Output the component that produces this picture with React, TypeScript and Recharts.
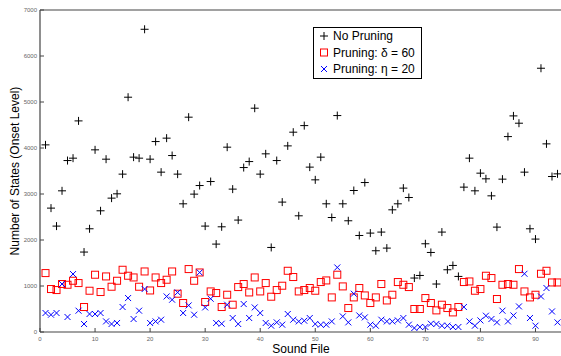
import { ScatterChart, Scatter, XAxis, YAxis, Legend } from 'recharts';

// sound file numbers (x categories)
const fileIds = Array.from({ length: 94 }, (_, i) => i + 1);

const noPruning = [
  4068, 2693, 2302, 3069, 3727, 3779, 4589, 1738, 2244, 3960,
  2635, 3757, 2910, 3004, 3432, 5104, 3801, 3779, 6581, 3757,
  4140, 3475, 4214, 3836, 3432, 2787, 4670, 2997, 3184, 2302,
  3271, 1911, 2287, 4018, 3106, 2433, 3575, 3705, 4865, 3432,
  3873, 1838, 3727, 2824, 4046, 4344, 2526, 4487, 3584, 3308,
  3801, 2787, 2489, 4705, 2787, 2418, 3076, 2098, 3249, 2150,
  1766, 2172, 1824, 2656, 2787, 3128, 2924, 1173, 1229, 1918,
  1729, 1043, 2172, 1353, 1447, 1208, 3149, 3779, 3069, 3453,
  3330, 2960, 2280, 3323, 4248, 4698, 4539, 3475, 2244, 2020,
  5734, 4090, 3380, 3438,
];

const pruningDelta = [
  1281, 934, 912, 1043, 1027, 1114, 1064, 543, 897, 1245,
  869, 1208, 984, 1114, 1353, 1223, 1186, 984, 1316, 903,
  1186, 1064, 1136, 1316, 832, 630, 1368, 1114, 1294, 652,
  882, 847, 543, 810, 593, 977, 1043, 860, 1186, 882,
  1064, 767, 912, 1006, 1331, 1195, 882, 912, 956, 897,
  1086, 1121, 752, 1245, 991, 521, 752, 956, 795, 630,
  752, 1043, 686, 810, 1086, 1027, 977, 500, 500, 738,
  630, 470, 593, 521, 426, 543, 1086, 1099, 897, 934,
  1223, 1173, 717, 1027, 1043, 1027, 1368, 882, 752, 810,
  1266, 1331, 1077, 1077,
];

const pruningEta = [
  413, 376, 413, 1043, 326, 1260, 463, 174, 391, 391,
  413, 230, 174, 196, 543, 738, 282, 463, 934, 196,
  230, 267, 773, 702, 860, 413, 578, 376, 1294, 534,
  723, 196, 180, 593, 304, 174, 608, 304, 534, 413,
  196, 137, 209, 159, 391, 267, 230, 245, 304, 174,
  159, 159, 230, 1403, 339, 209, 832, 360, 317, 159,
  137, 267, 230, 230, 252, 304, 159, 87, 109, 109,
  180, 174, 137, 137, 109, 109, 543, 230, 137, 252,
  354, 282, 209, 463, 230, 360, 556, 1266, 304, 137,
  773, 956, 447, 209,
];

const xTicks = [0, 10, 20, 30, 40, 50, 60, 70, 80, 90];
const yTicks = [0, 1000, 2000, 3000, 4000, 5000, 6000, 7000];

const toPoints = (vals: number[]) => fileIds.map((f, i) => ({ file: f, states: vals[i] }));

const FRAME = '#444';
const TICK_TXT = '#666';
const FONT = 'Liberation Sans, Arial, Helvetica, sans-serif';

const PlusMark = (p: any) => (
  <path d={`M${p.cx - 4},${p.cy}h8M${p.cx},${p.cy - 4}v8`} stroke="#000" strokeWidth={1} fill="none" />
);
const SquareMark = (p: any) => (
  <rect x={p.cx - 3.5} y={p.cy - 3.5} width={7} height={7} stroke="#ff0000" strokeWidth={1} fill="none" />
);
const CrossMark = (p: any) => (
  <path d={`M${p.cx - 3},${p.cy - 3}l6,6M${p.cx - 3},${p.cy + 3}l6,-6`} stroke="#0000ff" strokeWidth={1} fill="none" />
);

const BottomTick = (p: any) => (
  <g>
    <line x1={p.x} x2={p.x} y1={p.y} y2={p.y - 4} stroke={FRAME} />
    <text x={p.x} y={p.y + 9} textAnchor="middle" fontSize={6} fill={TICK_TXT} fontFamily={FONT}>
      {p.payload.value}
    </text>
  </g>
);
const TopTick = (p: any) => <line x1={p.x} x2={p.x} y1={p.y} y2={p.y + 4} stroke={FRAME} />;
const LeftTick = (p: any) => (
  <g>
    <line x1={p.x} x2={p.x + 4} y1={p.y} y2={p.y} stroke={FRAME} />
    <text x={p.x - 3} y={p.y + 2} textAnchor="end" fontSize={6} fill={TICK_TXT} fontFamily={FONT}>
      {p.payload.value}
    </text>
  </g>
);
const RightTick = (p: any) => <line x1={p.x} x2={p.x - 4} y1={p.y} y2={p.y} stroke={FRAME} />;

// axis titles at fixed spots, ignoring props passed by the axis
const XTitle = () => (
  <text x={301} y={353} textAnchor="middle" fontSize={12} fontFamily={FONT} fill="#000">
    Sound File
  </text>
);
const YTitle = () => (
  <text x={19} y={171} transform="rotate(-90 19 171)" textAnchor="middle" fontSize={12} fontFamily={FONT} fill="#000">
    Number of States (Onset Level)
  </text>
);

const legendItems = [
  { name: 'No Pruning', Mark: PlusMark },
  { name: 'Pruning: δ = 60', Mark: SquareMark },
  { name: 'Pruning: η = 20', Mark: CrossMark },
];

const LegendBox = () => (
  <svg width={110} height={53} style={{ display: 'block' }}>
    <rect x={0.5} y={0.5} width={108} height={51} fill="#fff" stroke="#000" />
    {legendItems.map((it, i) => (
      <g key={it.name}>
        <it.Mark cx={11} cy={9 + i * 16.5} />
        <text x={20} y={13 + i * 16.5} fontSize={12} fontFamily={FONT} fill="#000">
          {it.name}
        </text>
      </g>
    ))}
  </svg>
);

export default function App() {
  return (
    <div style={{ position: 'absolute', left: 0, top: 0, width: 561, height: 356, overflow: 'hidden', background: '#fff' }}>
      <ScatterChart width={563} height={356} margin={{ top: 0, right: 0, bottom: 0, left: 0 }}>
        <XAxis
          xAxisId="main"
          dataKey="file"
          type="number"
          domain={[0, 95]}
          ticks={xTicks}
          height={24}
          tickSize={0}
          tickMargin={0}
          tickLine={false}
          tick={<BottomTick />}
          axisLine={{ stroke: FRAME, strokeWidth: 1.2 }}
          interval={0}
          label={<XTitle />}
        />
        <XAxis
          xAxisId="top"
          orientation="top"
          type="number"
          domain={[0, 95]}
          ticks={xTicks}
          height={10}
          tickSize={0}
          tickMargin={0}
          tickLine={false}
          tick={<TopTick />}
          axisLine={{ stroke: FRAME, strokeWidth: 1.2 }}
          interval={0}
        />
        <YAxis
          yAxisId="main"
          dataKey="states"
          type="number"
          domain={[0, 7000]}
          ticks={yTicks}
          width={40}
          tickSize={0}
          tickMargin={0}
          tickLine={false}
          tick={<LeftTick />}
          axisLine={{ stroke: FRAME, strokeWidth: 1.2 }}
          interval={0}
          label={<YTitle />}
        />
        <YAxis
          yAxisId="right"
          orientation="right"
          type="number"
          domain={[0, 7000]}
          ticks={yTicks}
          width={0}
          tickSize={0}
          tickMargin={0}
          tickLine={false}
          tick={<RightTick />}
          axisLine={{ stroke: FRAME, strokeWidth: 1.2 }}
          interval={0}
        />
        <Scatter
          name="No Pruning"
          data={toPoints(noPruning)}
          xAxisId="main"
          yAxisId="main"
          shape={<PlusMark />}
          isAnimationActive={false}
        />
        <Scatter
          name="Pruning: δ = 60"
          data={toPoints(pruningDelta)}
          xAxisId="main"
          yAxisId="main"
          shape={<SquareMark />}
          isAnimationActive={false}
        />
        <Scatter
          name="Pruning: η = 20"
          data={toPoints(pruningEta)}
          xAxisId="main"
          yAxisId="main"
          shape={<CrossMark />}
          isAnimationActive={false}
        />
        <Legend
          layout="vertical"
          align="center"
          verticalAlign="middle"
          content={<LegendBox />}
          wrapperStyle={{ left: 313, top: 27, width: 110, height: 53 }}
        />
      </ScatterChart>
    </div>
  );
}
